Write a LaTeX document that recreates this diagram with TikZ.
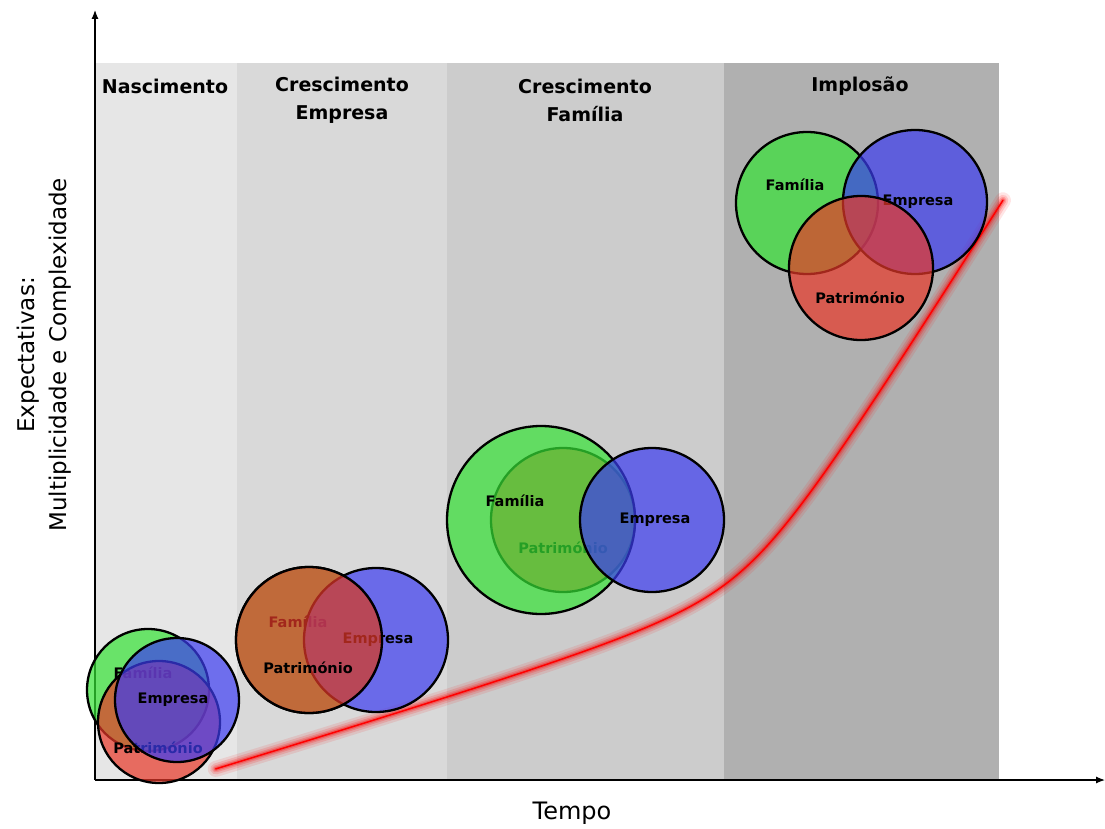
\documentclass[tikz,border=0pt]{standalone}
\usepackage{fontspec}
\setmainfont{DejaVu Sans}
\usetikzlibrary{arrows.meta}
\definecolor{bandNasc}{HTML}{E6E6E6}
\definecolor{bandEmp}{HTML}{D9D9D9}
\definecolor{bandFam}{HTML}{CCCCCC}
\definecolor{bandImp}{HTML}{B0B0B0}
\definecolor{famgreen}{RGB}{53,227,53}
\definecolor{empblue}{RGB}{60,60,240}
\definecolor{patred}{RGB}{232,56,40}
\tikzset{
  fase/.style={font=\fontsize{19}{28}\selectfont\bfseries, align=center},
  ring/.style={circle, draw=black, line width=2.3pt, inner sep=0pt, fill opacity=0.7},
  lbl/.style={font=\fontsize{14.5}{16}\selectfont\bfseries, inner sep=0pt},
  eixo/.style={line width=1.2pt, -{Latex[length=9pt,width=7pt]}},
}
\begin{document}
\begin{tikzpicture}[x=1pt,y=-1pt]
    \useasboundingbox (0,0) rectangle (1105,829);
    % fases
    \fill[bandNasc] (95,63) rectangle (237,780);
    \fill[bandEmp] (237,63) rectangle (447,780);
    \fill[bandFam] (447,63) rectangle (724,780);
    \fill[bandImp] (724,63) rectangle (999,780);
    \node[fase] (fNasc) at (165,86) {Nascimento};
    \node[fase] (fEmp) at (342,100) {Crescimento\\Empresa};
    \node[fase] (fFam) at (585,100) {Crescimento\\Família};
    \node[fase] (fImp) at (860,86) {Implosão};

    % eixos
    \coordinate (origem) at (95,780);
    \coordinate (topo) at (95,10);
    \coordinate (fim) at (1105,780);
    \draw[eixo] (origem) -- (topo);
    \draw[eixo] (origem) -- (fim);
    \node[font=\fontsize{24}{28}\selectfont] (tempo) at (572,813) {Tempo};
    \node[font=\fontsize{23}{32}\selectfont, align=center, rotate=90] (expect) at (44,355)
        {Expectativas:\\Multiplicidade e Complexidade};

    % curva
    \foreach \w/\o in {16/0.10, 11/0.15, 7/0.2, 4/0.3, 1.5/1}
        \draw[red, line width=\w pt, opacity=\o, line cap=round]
            plot[domain=1.69:6.286, samples=120, variable=\s]
            ({750-exp(\s)+1400/exp(\s)}, {612+0.3*exp(\s)-1.6*1400/exp(\s)});

    % nascimento
    \node[ring, fill=famgreen, minimum size=122pt] (nasFam) at (148,690) {};
    \node[lbl] (tNasFam) at (143,673) {Família};
    \node[ring, fill=patred, minimum size=122pt] (nasPat) at (159,722) {};
    \node[lbl] (tNasPat) at (158,748) {Património};
    \node[ring, fill=empblue, minimum size=124pt] (nasEmp) at (177,700) {};
    \node[lbl] (tNasEmp) at (173,700) {Empresa};

    % crescimento empresa
    \node[ring, fill=famgreen, minimum size=146pt] (cEFam) at (309,640) {};
    \node[lbl] (tCEFam) at (298,622) {Família};
    \node[ring, fill=empblue, minimum size=144pt] (cEEmp) at (376,640) {};
    \node[lbl] (tCEEmp) at (378,640) {Empresa};
    \node[ring, fill=patred, minimum size=146pt] (cEPat) at (309,640) {};
    \node[lbl] (tCEPat) at (308,668) {Património};

    % crescimento familia
    \node[ring, fill=patred, minimum size=144pt] (cFPat) at (563,520) {};
    \node[lbl] (tCFPat) at (563,548) {Património};
    \node[ring, fill=famgreen, minimum size=188pt] (cFFam) at (541,520) {};
    \node[lbl] (tCFFam) at (515,501) {Família};
    \node[ring, fill=empblue, minimum size=144pt] (cFEmp) at (652,520) {};
    \node[lbl] (tCFEmp) at (655,520) {Empresa};

    % implosao
    \node[ring, fill=famgreen, minimum size=142pt] (imFam) at (807,203) {};
    \node[lbl] (tImFam) at (795,185) {Família};
    \node[ring, fill=empblue, minimum size=144pt] (imEmp) at (915,202) {};
    \node[lbl] (tImEmp) at (918,202) {Empresa};
    \node[ring, fill=patred, minimum size=144pt] (imPat) at (861,268) {};
    \node[lbl] (tImPat) at (860,298) {Património};
\end{tikzpicture}
\end{document}
